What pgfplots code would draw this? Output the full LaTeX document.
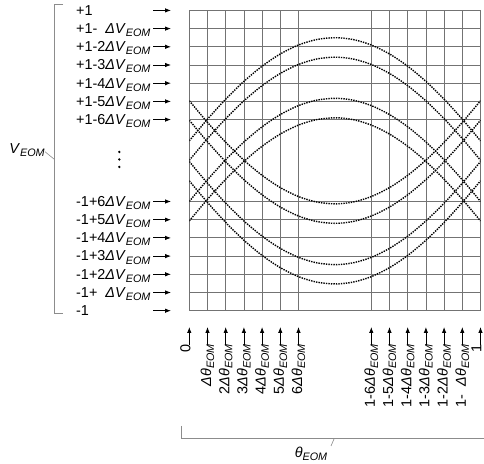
\documentclass[border=0pt]{standalone}
\usepackage{pgfplots}
\pgfplotsset{compat=1.18}
\usetikzlibrary{arrows.meta}
\usepackage{fontspec}
\setmainfont{Liberation Sans}
\definecolor{gridc}{RGB}{115,115,115}
\definecolor{brc}{RGB}{140,140,140}
\newcommand{\sub}[1]{\raisebox{-0.22em}{\fontsize{10.8bp}{10.8bp}\selectfont\textit{#1}}}
\newcommand{\dV}{\textit{ΔV}\sub{EOM}}
\newcommand{\dT}{\textit{Δθ}\sub{EOM}}
\begin{document}
\begin{tikzpicture}[font=\fontsize{14.4bp}{16bp}\selectfont]
\useasboundingbox (0,0) rectangle (484bp,464bp);
\begin{axis}[
  at={(189.3bp,153.3bp)}, anchor=south west,
  x=18.2bp, y=18.2bp,
  xmin=0, xmax=16, ymin=0, ymax=16.5,
  xtick={0,1,2,3,4,5,6,10,11,12,13,14,15,16},
  ytick={0,1,2,3,4,5,6,10.5,11.5,12.5,13.5,14.5,15.5,16.5},
  xticklabels={}, yticklabels={},
  major tick length=0pt,
  grid=major,
  grid style={gridc, line width=0.8bp},
  axis line style={gridc, line width=0.8bp},
  clip=true,
]
\tikzset{eye/.style={black, line width=1.4bp, dash pattern=on 1.4bp off 1.1bp, smooth, no marks}}
% upper curves
\addplot[eye] coordinates {(0,9.334)(1,10.523)(2,11.620)(3,12.598)(4,13.434)(5,14.106)(6,14.599)(7,14.899)(8,15.0)(9,14.899)(10,14.599)(11,14.106)(12,13.434)(13,12.598)(14,11.620)(15,10.523)(16,9.334)};
\addplot[eye] coordinates {(0,8.264)(1,9.453)(2,10.550)(3,11.528)(4,12.364)(5,13.036)(6,13.529)(7,13.829)(8,13.93)(9,13.829)(10,13.529)(11,13.036)(12,12.364)(13,11.528)(14,10.550)(15,9.453)(16,8.264)};
\addplot[eye] coordinates {(0,6.004)(1,7.193)(2,8.290)(3,9.268)(4,10.104)(5,10.776)(6,11.269)(7,11.569)(8,11.67)(9,11.569)(10,11.269)(11,10.776)(12,10.104)(13,9.268)(14,8.290)(15,7.193)(16,6.004)};
\addplot[eye] coordinates {(0,4.934)(1,6.123)(2,7.220)(3,8.198)(4,9.034)(5,9.706)(6,10.199)(7,10.499)(8,10.6)(9,10.499)(10,10.199)(11,9.706)(12,9.034)(13,8.198)(14,7.220)(15,6.123)(16,4.934)};
% lower curves
\addplot[eye] coordinates {(0,11.536)(1,10.347)(2,9.250)(3,8.272)(4,7.436)(5,6.764)(6,6.271)(7,5.971)(8,5.87)(9,5.971)(10,6.271)(11,6.764)(12,7.436)(13,8.272)(14,9.250)(15,10.347)(16,11.536)};
\addplot[eye] coordinates {(0,10.466)(1,9.277)(2,8.180)(3,7.202)(4,6.366)(5,5.694)(6,5.201)(7,4.901)(8,4.8)(9,4.901)(10,5.201)(11,5.694)(12,6.366)(13,7.202)(14,8.180)(15,9.277)(16,10.466)};
\addplot[eye] coordinates {(0,8.196)(1,7.007)(2,5.910)(3,4.932)(4,4.096)(5,3.424)(6,2.931)(7,2.631)(8,2.53)(9,2.631)(10,2.931)(11,3.424)(12,4.096)(13,4.932)(14,5.910)(15,7.007)(16,8.196)};
\addplot[eye] coordinates {(0,7.136)(1,5.947)(2,4.850)(3,3.872)(4,3.036)(5,2.364)(6,1.871)(7,1.571)(8,1.47)(9,1.571)(10,1.871)(11,2.364)(12,3.036)(13,3.872)(14,4.850)(15,5.947)(16,7.136)};
\end{axis}
\begin{scope}[x=1bp,y=1bp]
\tikzset{arr/.style={black, line width=0.8bp, -{Latex[length=6bp,width=4.5bp]}}}
% left labels and arrows
\foreach \yy/\lab in {453.6/{+1}, 435.4/{+1-\phantom{0}\dV}, 417.2/{+1-2\dV}, 399.0/{+1-3\dV}, 380.8/{+1-4\dV}, 362.6/{+1-5\dV}, 344.4/{+1-6\dV},
  262.5/{-1+6\dV}, 244.3/{-1+5\dV}, 226.1/{-1+4\dV}, 207.9/{-1+3\dV}, 189.7/{-1+2\dV}, 171.5/{-1+\phantom{0}\dV}, 153.3/{-1}}{
  \draw[arr] (153,\yy) -- (171,\yy);
  \node[anchor=base west, inner sep=0pt] at (76,\yy-4.8) {\lab};
}
% vertical dots
\fill (119.3,312) circle (1.3);
\fill (119.3,304.5) circle (1.3);
\fill (119.3,297) circle (1.3);
% left bracket
\draw[brc, line width=0.8bp] (63,460) -- (54.3,460) -- (54.3,151) -- (63,151);
\draw[brc, line width=0.6bp] (45,312.3) -- (54.3,304.7);
\node[anchor=base, inner sep=0pt] at (27,311) {\textit{V}\sub{EOM}};
% bottom arrows and labels
\foreach \xx/\lab/\dx in {189.3/{0}/-4, 207.5/{\dT}/0, 225.7/{2\dT}/0, 243.9/{3\dT}/0, 262.1/{4\dT}/0, 280.3/{5\dT}/0, 298.5/{6\dT}/0,
  371.3/{1-6\dT}/0, 389.5/{1-5\dT}/0, 407.7/{1-4\dT}/0, 425.9/{1-3\dT}/0, 444.1/{1-2\dT}/0, 462.3/{1-\phantom{0}\dT}/0, 480.5/{1}/-4}{
  \draw[arr] (\xx,119) -- (\xx,137);
  \node[rotate=90, anchor=east, inner sep=0pt] at (\xx+\dx,120) {\lab};
}
% bottom bracket
\draw[brc, line width=0.8bp] (181,38) -- (181,25.7) -- (484,25.7);
\draw[brc, line width=0.6bp] (334.3,25.7) -- (331,18);
\node[anchor=base, inner sep=0pt] at (311,7) {\textit{θ}\sub{EOM}};
\end{scope}
\end{tikzpicture}
\end{document}
